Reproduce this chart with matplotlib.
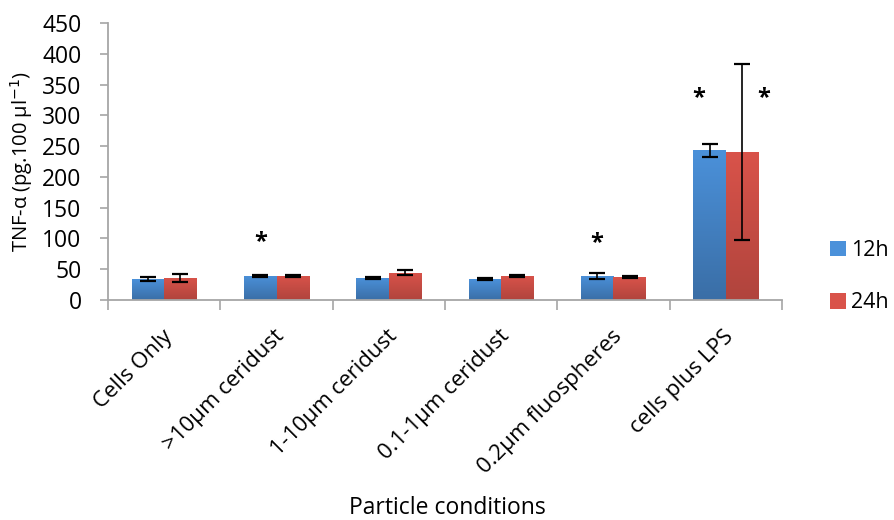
import numpy as np
import matplotlib
matplotlib.use("Agg")
from matplotlib import pyplot as plt
from matplotlib.patches import Patch
from matplotlib.colors import LinearSegmentedColormap
import matplotlib.transforms as mtransforms

plt.rcParams['font.family'] = ['Open Sans', 'DejaVu Sans']

categories = ["Cells Only", ">10µm ceridust", "1-10µm ceridust",
              "0.1-1µm ceridust", "0.2µm fluospheres", "cells plus LPS"]
series     = ["12h", "24h"]
vals_12h   = [34, 39, 36, 34, 39, 243]
vals_24h   = [36, 39, 44, 39, 37, 240]
err_12h    = [3, 1.5, 1.5, 2, 4.5, 11]
err_24h    = [6, 2, 4, 1, 1.5, 143]
# asterisks: (category index, series index, height)
stars      = [(1, 0, 94), (4, 0, 93), (5, 0, 328), (5, 1, 328)]

ylabel = "TNF-α (pg.100 µl$^{-1}$)"
xlabel = "Particle conditions"

top_cols    = ["#4b91da", "#d9534a"]
bottom_cols = ["#3a6ea6", "#b0443d"]
grey        = "#a6a6a6"

width = 0.29

fig = plt.figure(figsize=(8.95, 5.2), dpi=100)
ax = fig.add_axes([0.1207, 0.4231, 0.7530, 0.5327])

x = np.arange(len(categories)) + 0.5
offsets = [-width / 2, width / 2]
all_vals = [vals_12h, vals_24h]
all_errs = [err_12h, err_24h]

grad = np.linspace(0, 1, 256).reshape(-1, 1)
for i in range(2):
    bars = ax.bar(x + offsets[i], all_vals[i], width=width, color=top_cols[i],
                  edgecolor="none", zorder=2)
    cmap = LinearSegmentedColormap.from_list("g%d" % i, [bottom_cols[i], top_cols[i]])
    for b in bars:
        x0, y0 = b.get_x(), b.get_y()
        im = ax.imshow(grad, cmap=cmap, aspect="auto", origin="lower",
                       extent=[x0, x0 + b.get_width(), y0, y0 + b.get_height()],
                       zorder=2.1)
        im.set_clip_path(b)
    ax.errorbar(x + offsets[i], all_vals[i], yerr=all_errs[i], fmt="none",
                ecolor="black", elinewidth=1.2, capsize=5.5, capthick=1.6, zorder=3)

for ci, si, h in stars:
    sx = x[ci] + offsets[si]
    if ci == 5:
        sx = x[ci] + (-0.24 if si == 0 else 0.34)
    ax.text(sx, h, "*", ha="center", va="center", fontsize=17, fontweight="bold")

ax.set_xlim(0, len(categories))
ax.set_ylim(0, 450)
ax.set_yticks(np.arange(0, 451, 50))
ax.tick_params(axis="y", labelsize=16.5, length=6, width=1.2, color=grey, pad=13)
ax.set_xticks(x)
ax.set_xticklabels(categories, rotation=45, ha="right", va="center",
                   rotation_mode="anchor", fontsize=16)
ax.tick_params(axis="x", length=0, pad=24)
shift = mtransforms.ScaledTranslation(5 / 100, 0, fig.dpi_scale_trans)
for lab in ax.get_xticklabels():
    lab.set_transform(lab.get_transform() + shift)
ax.set_xticks(np.arange(len(categories) + 1), minor=True)
ax.tick_params(axis="x", which="minor", length=7, width=1.2, color=grey)

for s in ["top", "right"]:
    ax.spines[s].set_visible(False)
for s in ["left", "bottom"]:
    ax.spines[s].set_color(grey)
    ax.spines[s].set_linewidth(1.3)

ax.set_ylabel(ylabel, fontsize=14.5, labelpad=5)
fig.text(0.5, 0.047, xlabel, ha="center", va="top", fontsize=16.5)

handles = [Patch(facecolor=top_cols[i], edgecolor="none") for i in range(2)]
fig.legend(handles, series, loc="upper left", bbox_to_anchor=(0.918, 0.555),
           frameon=False, fontsize=15.5, handlelength=0.75, handleheight=0.75,
           handletextpad=0.2, labelspacing=1.45, borderaxespad=0)

fig.savefig("out.png", dpi=100)
